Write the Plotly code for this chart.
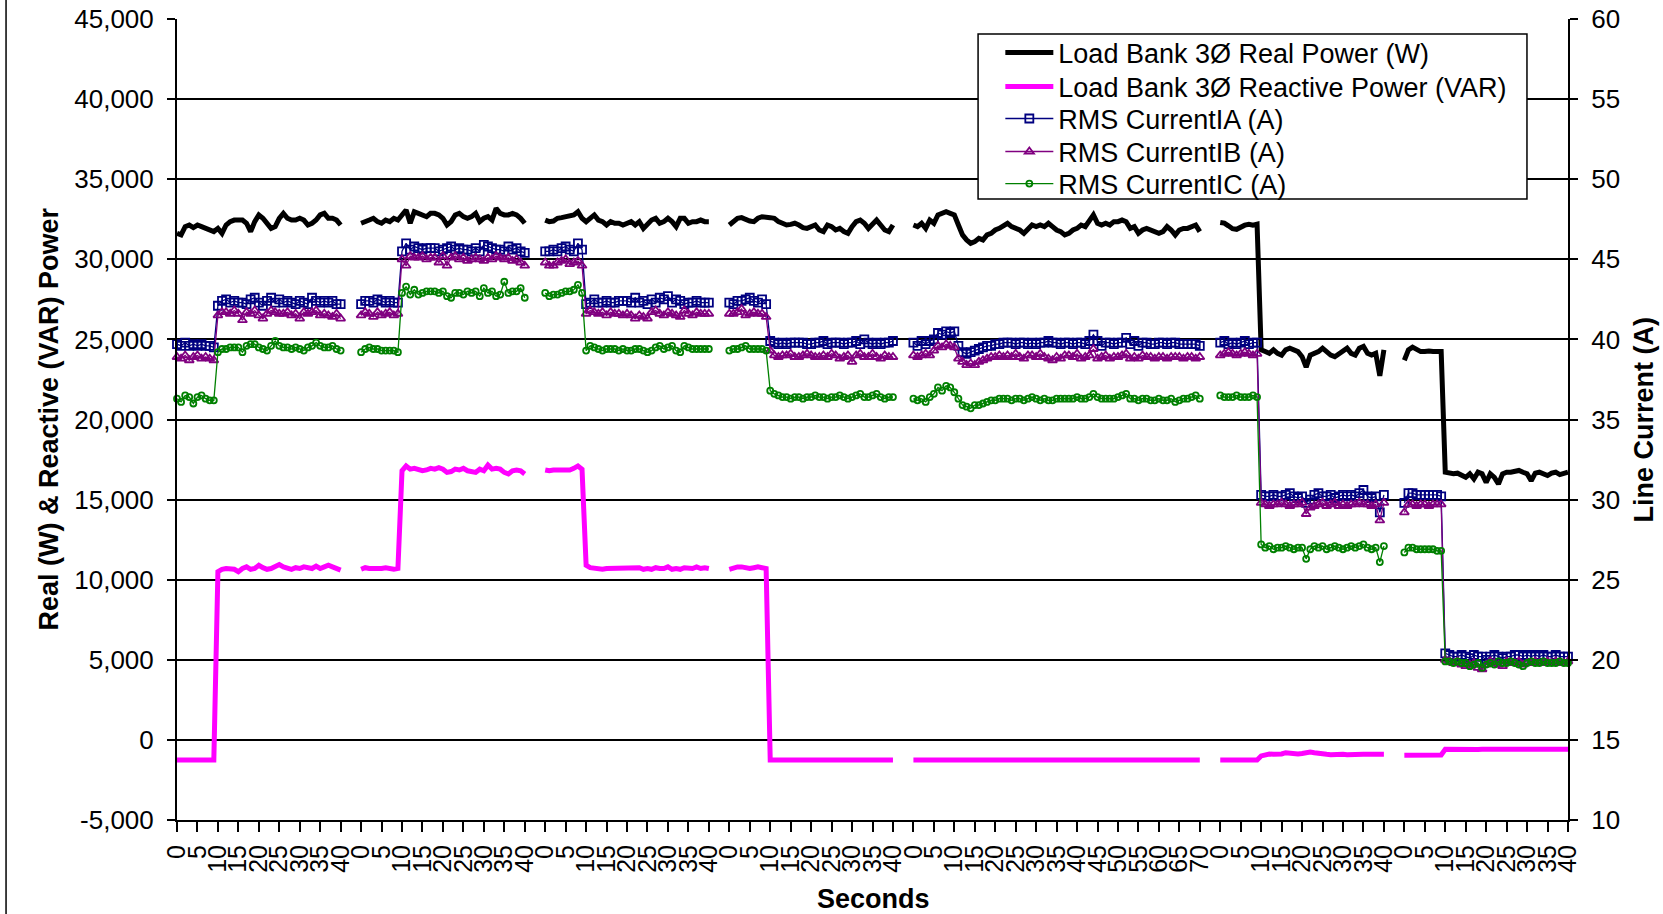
import plotly.graph_objects as go

# ---------------- DATA ----------------
test_durations = [40, 40, 40, 40, 70, 40, 40]   # seconds per test (each starts at 0)
blank_between = 4                               # empty categories between tests
left_ticks = [-5000, 0, 5000, 10000, 15000, 20000, 25000, 30000, 35000, 40000, 45000]

real_power_w = [
    [31620, 31520, 32040, 32140, 31980, 32140, 32040, 31930, 31830, 31730,
     31930, 31620, 32140, 32350, 32450, 32450, 32450, 32250, 31730, 32350,
     32770, 32560, 32250, 31930, 32040, 32560, 32870, 32560, 32450, 32450,
     32560, 32450, 32140, 32250, 32450, 32770, 32870, 32560, 32560, 32450, 32140],
    [32250, 32390, 32450, 32560, 32350, 32250, 32450, 32350, 32560, 32450,
     32770, 33080, 32250, 32970, 32870, 32770, 32660, 32870, 32870, 32770,
     32560, 32140, 32350, 32770, 32870, 32660, 32560, 32660, 32870, 32350,
     32560, 32660, 32450, 33180, 32870, 32770, 32770, 32870, 32770, 32560, 32250],
    [32450, 32350, 32390, 32560, 32600, 32660, 32660, 32770, 32970, 32560,
     32350, 32560, 32770, 32450, 32350, 32140, 32350, 32250, 32250, 32140,
     32250, 32350, 32140, 32350, 31930, 32250, 32450, 32560, 32250, 32350,
     32560, 32350, 32040, 32560, 32560, 32250, 32350, 32350, 32450, 32350, 32350],
    [32140, 32350, 32560, 32600, 32450, 32390, 32350, 32560, 32660, 32660,
     32600, 32560, 32350, 32250, 32140, 32180, 32250, 32140, 31980, 31930,
     32040, 32140, 31830, 31730, 32140, 32040, 31830, 31930, 31730, 31620,
     32040, 32350, 32450, 32250, 31930, 32140, 32450, 32140, 31830, 31730, 32140],
    [32140, 32040, 32250, 31930, 32450, 32250, 32770, 32870, 32970, 32870,
     32770, 32140, 31520, 31210, 31000, 31100, 31310, 31210, 31520, 31620,
     31830, 31930, 32140, 32250, 32040, 31930, 31830, 31620, 31930, 32140,
     32040, 32140, 32040, 32250, 32040, 31830, 31730, 31520, 31620, 31830,
     31930, 32140, 32040, 32350, 32770, 32250, 32140, 32250, 32140, 32350,
     32350, 32450, 32350, 31930, 32040, 31620, 31830, 31930, 31830, 31730,
     31620, 31730, 32040, 31830, 31520, 31830, 31930, 31930, 32040, 32140, 31730],
    [32300, 32260, 32090, 31910, 31870, 32040, 32130, 32190, 32130, 32190,
     24350, 24240, 24130, 24350, 24130, 24020, 24350, 24450, 24350, 24240,
     23920, 23270, 24020, 24130, 24240, 24450, 24240, 24020, 23920, 24130,
     24240, 24450, 24130, 24020, 24450, 24560, 24130, 24020, 24130, 22730, 24350],
    [23700, 24350, 24520, 24350, 24240, 24240, 24280, 24240, 24240, 24240,
     16710, 16650, 16610, 16650, 16500, 16390, 16610, 16290, 16710, 16610,
     16070, 16610, 16390, 15970, 16610, 16710, 16710, 16780, 16820, 16710,
     16610, 16180, 16650, 16710, 16610, 16500, 16650, 16710, 16560, 16650, 16710],
]

reactive_power_var = [
    [-1250, -1250, -1240, -1250, -1250, -1250, -1240, -1250, -1250, -1250,
     10500, 10650, 10700, 10700, 10650, 10500, 10700, 10800, 10650, 10700,
     10900, 10750, 10650, 10700, 10800, 10950, 10800, 10700, 10650, 10750,
     10700, 10800, 10750, 10700, 10850, 10700, 10800, 10900, 10800, 10700, 10600],
    [10650, 10750, 10700, 10700, 10650, 10700, 10750, 10700, 10650, 10700,
     16800, 17100, 16900, 16950, 16900, 16800, 16850, 16950, 16900, 17000,
     16900, 16700, 16750, 16900, 16850, 16950, 16800, 16750, 16700, 16900,
     16800, 17150, 16900, 16950, 16900, 16700, 16600, 16800, 16850, 16800, 16600],
    [16850, 16800, 16850, 16850, 16900, 16900, 16850, 16950, 17100, 16900,
     10900, 10750, 10700, 10700, 10650, 10700, 10700, 10700, 10700, 10700,
     10700, 10700, 10750, 10750, 10650, 10700, 10650, 10750, 10700, 10700,
     10800, 10650, 10700, 10650, 10750, 10700, 10700, 10800, 10700, 10750, 10700],
    [10650, 10750, 10800, 10800, 10750, 10700, 10750, 10800, 10750, 10700,
     -1250, -1250, -1260, -1250, -1250, -1250, -1250, -1260, -1250, -1250,
     -1250, -1250, -1250, -1250, -1260, -1250, -1250, -1250, -1250, -1250,
     -1250, -1260, -1250, -1250, -1250, -1250, -1250, -1250, -1260, -1250, -1250],
    [-1250, -1250, -1250, -1260, -1250, -1250, -1250, -1250, -1250, -1250,
     -1250, -1250, -1260, -1250, -1250, -1250, -1250, -1250, -1250, -1250,
     -1250, -1250, -1250, -1250, -1250, -1260, -1250, -1250, -1250, -1250,
     -1250, -1250, -1250, -1250, -1250, -1250, -1250, -1260, -1250, -1250,
     -1250, -1250, -1250, -1250, -1250, -1250, -1250, -1250, -1250, -1260,
     -1250, -1250, -1250, -1250, -1250, -1250, -1250, -1250, -1250, -1250,
     -1250, -1260, -1250, -1250, -1250, -1250, -1250, -1250, -1250, -1250, -1250],
    [-1250, -1250, -1250, -1250, -1240, -1250, -1250, -1250, -1250, -1250,
     -1000, -900, -880, -900, -920, -880, -800, -820, -900, -880,
     -850, -780, -760, -800, -850, -900, -900, -920, -900, -880,
     -900, -920, -900, -900, -880, -900, -900, -900, -880, -850, -900],
    [-960, -950, -950, -940, -950, -950, -940, -950, -950, -940,
     -590, -600, -590, -590, -590, -580, -590, -590, -600, -590,
     -590, -590, -580, -590, -590, -590, -600, -590, -590, -590,
     -580, -590, -590, -590, -590, -600, -590, -590, -590, -580, -590],
]

current_ia = [
    [39.7, 39.6, 39.8, 39.6, 39.7, 39.6, 39.7, 39.6, 39.6, 39.5,
     42.1, 42.4, 42.5, 42.3, 42.4, 42.3, 42.3, 42.2, 42.5, 42.6,
     42.3, 42.1, 42.4, 42.6, 42.3, 42.5, 42.3, 42.4, 42.3, 42.2,
     42.4, 42.3, 42.2, 42.6, 42.4, 42.3, 42.4, 42.3, 42.4, 42.2, 42.2],
    [42.2, 42.4, 42.4, 42.3, 42.5, 42.4, 42.3, 42.4, 42.3, 42.3,
     45.5, 46.0, 45.6, 45.8, 45.7, 45.6, 45.7, 45.7, 45.7, 45.5,
     45.6, 45.7, 45.8, 45.6, 45.7, 45.6, 45.6, 45.5, 45.7, 45.5,
     45.9, 45.8, 45.7, 45.6, 45.6, 45.5, 45.8, 45.6, 45.7, 45.5, 45.4],
    [45.5, 45.5, 45.6, 45.5, 45.7, 45.8, 45.6, 45.5, 46.0, 45.6,
     42.2, 42.3, 42.5, 42.3, 42.3, 42.4, 42.3, 42.3, 42.4, 42.4,
     42.4, 42.3, 42.6, 42.3, 42.4, 42.2, 42.5, 42.3, 42.6, 42.5,
     42.7, 42.3, 42.5, 42.4, 42.2, 42.3, 42.3, 42.4, 42.3, 42.3, 42.3],
    [42.3, 42.2, 42.4, 42.4, 42.5, 42.6, 42.4, 42.3, 42.5, 42.2,
     39.9, 39.8, 39.7, 39.8, 39.7, 39.8, 39.8, 39.8, 39.8, 39.7,
     39.7, 39.8, 39.8, 39.9, 39.7, 39.8, 39.8, 39.8, 39.7, 39.8,
     39.8, 39.9, 39.7, 40.0, 39.8, 39.7, 39.8, 39.7, 39.8, 39.8, 39.9],
    [39.8, 39.6, 39.9, 39.7, 39.9, 40.0, 40.4, 40.3, 40.5, 40.4,
     40.5, 39.6, 39.2, 39.1, 39.2, 39.3, 39.4, 39.5, 39.6, 39.6,
     39.7, 39.7, 39.8, 39.8, 39.8, 39.7, 39.8, 39.8, 39.7, 39.8,
     39.7, 39.8, 39.8, 39.9, 39.8, 39.8, 39.7, 39.8, 39.8, 39.7,
     39.8, 39.8, 39.7, 39.9, 40.3, 39.9, 39.6, 39.8, 39.8, 39.7,
     39.8, 39.8, 40.1, 39.7, 39.9, 39.6, 39.8, 39.8, 39.7, 39.7,
     39.8, 39.8, 39.7, 39.8, 39.8, 39.7, 39.7, 39.7, 39.7, 39.7, 39.6],
    [39.8, 39.9, 39.7, 39.8, 39.7, 39.8, 39.9, 39.7, 39.8, 39.8,
     30.3, 30.2, 30.2, 30.3, 30.2, 30.2, 30.3, 30.4, 30.2, 30.1,
     30.2, 29.8, 30.0, 30.3, 30.4, 30.2, 30.2, 30.3, 30.1, 30.2,
     30.3, 30.2, 30.3, 30.2, 30.4, 30.6, 30.2, 30.1, 30.2, 29.2, 30.3],
    [29.8, 30.4, 30.4, 30.3, 30.3, 30.3, 30.3, 30.3, 30.3, 30.2,
     20.4, 20.3, 20.2, 20.2, 20.3, 20.2, 20.1, 20.3, 20.2, 20.2,
     20.0, 20.2, 20.3, 20.2, 20.1, 20.2, 20.2, 20.3, 20.3, 20.2,
     20.3, 20.2, 20.3, 20.2, 20.3, 20.2, 20.2, 20.3, 20.2, 20.2, 20.2],
]

current_ib = [
    [38.9, 38.8, 39.0, 38.7, 38.9, 39.0, 38.8, 38.9, 38.8, 38.7,
     41.5, 41.7, 41.7, 41.6, 41.8, 41.6, 41.2, 41.7, 41.6, 41.8,
     41.5, 41.3, 41.6, 41.8, 41.7, 41.6, 41.6, 41.7, 41.5, 41.6,
     41.3, 41.7, 41.6, 41.7, 41.8, 41.5, 41.6, 41.5, 41.4, 41.6, 41.3],
    [41.5, 41.7, 41.6, 41.4, 41.7, 41.5, 41.6, 41.7, 41.5, 41.6,
     45.0, 44.6, 45.2, 45.1, 45.1, 45.2, 45.0, 45.1, 45.1, 44.8,
     45.2, 44.6, 45.1, 45.2, 45.0, 45.1, 44.9, 45.0, 45.1, 45.0,
     44.9, 45.1, 45.0, 45.2, 45.1, 45.0, 45.1, 44.9, 45.0, 44.8, 44.6],
    [44.8, 44.6, 44.6, 44.8, 44.9, 45.0, 44.7, 44.8, 44.9, 44.6,
     41.6, 41.8, 41.7, 41.6, 41.7, 41.5, 41.7, 41.6, 41.6, 41.5,
     41.6, 41.5, 41.3, 41.5, 41.4, 41.3, 41.7, 41.8, 41.6, 41.5,
     41.7, 41.6, 41.5, 41.4, 41.8, 41.6, 41.5, 41.7, 41.6, 41.6, 41.6],
    [41.6, 41.6, 41.7, 41.9, 41.5, 41.6, 41.7, 41.6, 41.6, 41.4,
     39.3, 39.0, 38.9, 39.0, 39.0, 39.1, 38.9, 38.9, 39.0, 39.1,
     39.0, 38.9, 38.9, 39.0, 38.9, 39.1, 39.0, 38.8, 38.9, 39.0,
     38.6, 39.0, 39.1, 38.9, 38.9, 39.1, 38.9, 38.8, 39.0, 38.9, 38.9],
    [39.0, 38.9, 39.0, 39.1, 39.0, 39.3, 39.6, 39.5, 39.7, 39.6,
     39.5, 38.8, 38.6, 38.4, 38.5, 38.4, 38.6, 38.7, 38.8, 38.9,
     38.9, 39.0, 38.9, 39.0, 38.9, 39.1, 38.9, 38.8, 39.0, 39.0,
     38.9, 39.1, 38.9, 38.8, 38.7, 38.9, 38.8, 39.0, 39.0, 38.9,
     39.1, 38.8, 38.9, 39.0, 39.4, 38.8, 38.9, 39.0, 38.8, 38.9,
     38.9, 39.0, 39.1, 38.8, 38.9, 38.8, 39.0, 38.9, 38.9, 38.8,
     38.9, 38.9, 38.8, 38.9, 38.9, 38.9, 38.8, 38.9, 38.9, 38.8, 38.9],
    [39.0, 39.1, 39.2, 39.1, 39.0, 39.1, 39.2, 39.1, 39.0, 39.1,
     29.8, 29.7, 29.6, 29.7, 29.7, 29.8, 29.7, 29.6, 29.7, 29.7,
     29.8, 29.1, 29.5, 29.6, 29.7, 29.8, 29.6, 29.7, 29.8, 29.6,
     29.7, 29.6, 29.7, 29.7, 29.8, 29.7, 29.7, 29.6, 29.7, 28.7, 29.8],
    [29.2, 29.7, 29.7, 29.6, 29.7, 29.7, 29.6, 29.7, 29.7, 29.7,
     20.0, 19.9, 19.8, 19.9, 19.7, 19.6, 19.7, 19.8, 19.5, 19.4,
     19.7, 19.9, 19.8, 19.7, 19.6, 19.9, 19.8, 19.8, 19.9, 19.7,
     19.8, 19.8, 19.9, 19.8, 19.8, 19.9, 19.8, 19.9, 19.8, 19.8, 19.9],
]

current_ic = [
    [36.3, 36.1, 36.5, 36.4, 36.0, 36.4, 36.5, 36.3, 36.2, 36.2,
     39.2, 39.4, 39.4, 39.5, 39.5, 39.5, 39.2, 39.6, 39.7, 39.7,
     39.5, 39.4, 39.3, 39.6, 39.9, 39.6, 39.5, 39.5, 39.4, 39.5,
     39.4, 39.3, 39.5, 39.6, 39.8, 39.6, 39.5, 39.5, 39.6, 39.4, 39.3],
    [39.2, 39.4, 39.5, 39.4, 39.4, 39.3, 39.3, 39.3, 39.3, 39.2,
     42.9, 43.3, 42.8, 43.1, 42.8, 42.9, 43.0, 43.0, 43.0, 42.9,
     43.0, 42.7, 42.6, 42.9, 42.9, 42.8, 43.0, 42.9, 43.0, 42.7,
     43.2, 42.9, 43.0, 42.7, 42.8, 43.6, 42.9, 43.0, 43.0, 43.2, 42.6],
    [42.9, 42.7, 42.8, 42.8, 42.9, 43.0, 43.0, 43.1, 43.4, 42.9,
     39.3, 39.6, 39.5, 39.4, 39.3, 39.4, 39.4, 39.4, 39.3, 39.4,
     39.3, 39.3, 39.4, 39.4, 39.3, 39.2, 39.3, 39.5, 39.6, 39.4,
     39.5, 39.6, 39.3, 39.2, 39.6, 39.5, 39.4, 39.4, 39.4, 39.4, 39.4],
    [39.3, 39.4, 39.4, 39.5, 39.6, 39.4, 39.4, 39.4, 39.4, 39.3,
     36.8, 36.6, 36.5, 36.4, 36.4, 36.3, 36.4, 36.4, 36.3, 36.4,
     36.4, 36.5, 36.4, 36.4, 36.3, 36.4, 36.4, 36.5, 36.4, 36.3,
     36.4, 36.5, 36.6, 36.4, 36.4, 36.5, 36.6, 36.4, 36.3, 36.4, 36.4],
    [36.3, 36.2, 36.3, 36.1, 36.4, 36.6, 37.0, 36.8, 37.1, 37.0,
     36.7, 36.3, 35.9, 35.8, 35.7, 35.9, 35.9, 36.0, 36.1, 36.2,
     36.2, 36.3, 36.3, 36.3, 36.2, 36.3, 36.3, 36.2, 36.3, 36.4,
     36.3, 36.2, 36.3, 36.2, 36.2, 36.3, 36.3, 36.3, 36.3, 36.3,
     36.4, 36.3, 36.3, 36.4, 36.6, 36.4, 36.3, 36.3, 36.3, 36.3,
     36.4, 36.5, 36.6, 36.3, 36.3, 36.2, 36.3, 36.3, 36.2, 36.2,
     36.3, 36.2, 36.2, 36.3, 36.1, 36.2, 36.3, 36.3, 36.4, 36.5, 36.3],
    [36.5, 36.4, 36.4, 36.4, 36.5, 36.4, 36.4, 36.4, 36.5, 36.4,
     27.2, 27.0, 27.1, 26.9, 27.0, 27.0, 27.1, 27.0, 26.9, 27.0,
     27.0, 26.3, 26.9, 27.1, 27.0, 27.1, 26.9, 27.0, 27.1, 27.0,
     26.9, 27.0, 27.1, 27.0, 27.1, 27.2, 27.0, 26.9, 27.0, 26.1, 27.1],
    [26.7, 27.0, 27.0, 26.9, 26.9, 26.9, 26.9, 26.9, 26.8, 26.8,
     19.9, 19.9, 19.8, 19.9, 19.8, 19.8, 19.6, 19.7, 19.8, 19.5,
     19.7, 19.8, 19.7, 19.9, 19.8, 19.8, 19.9, 19.8, 19.7, 19.6,
     19.8, 19.9, 19.8, 19.8, 19.9, 19.8, 19.8, 19.8, 19.9, 19.8, 19.8],
]

series_names = [
    "Load Bank 3Ø Real Power (W)",
    "Load Bank 3Ø Reactive Power (VAR)",
    "RMS CurrentIA (A)",
    "RMS CurrentIB (A)",
    "RMS CurrentIC (A)",
]

# ---------------- CATEGORY AXIS ----------------
categories = []
test_start = []
for t, dur in enumerate(test_durations):
    if t > 0:
        categories += [""] * blank_between
    test_start.append(len(categories))
    categories += [str(s) for s in range(dur + 1)]


def flatten(seg_lists):
    xs, ys = [], []
    for t, seg in enumerate(seg_lists):
        if t > 0:
            xs.append(None)
            ys.append(None)
        for k, v in enumerate(seg):
            xs.append(test_start[t] + k)
            ys.append(v)
    return xs, ys


FONT = "Liberation Sans, Arial, sans-serif"
LEG_FONT = dict(family=FONT, size=27, color="black")
legend_ids = ["legend", "legend2", "legend3", "legend4", "legend5"]
legend_rows_y = [0.9576, 0.9151, 0.8752, 0.8340, 0.7940]

fig = go.Figure()

x, y = flatten(real_power_w)
fig.add_trace(go.Scatter(x=x, y=y, name=series_names[0], mode="lines", legend=legend_ids[0],
                         line=dict(color="#000000", width=5), yaxis="y"))
x, y = flatten(reactive_power_var)
fig.add_trace(go.Scatter(x=x, y=y, name=series_names[1], mode="lines", legend=legend_ids[1],
                         line=dict(color="#FF00FF", width=5), yaxis="y"))

cur_styles = [
    (current_ia, "#000080", "square-open", 8),
    (current_ib, "#800080", "triangle-up-open", 8),
    (current_ic, "#008000", "circle-open", 6),
]
for i, (data, col, sym, sz) in enumerate(cur_styles):
    x, y = flatten(data)
    fig.add_trace(go.Scatter(x=x, y=y, name=series_names[2 + i], mode="lines+markers",
                             legend=legend_ids[2 + i],
                             line=dict(color=col, width=1.3),
                             marker=dict(symbol=sym, size=sz, color=col, line=dict(color=col, width=1.8)),
                             yaxis="y2", cliponaxis=False))

tickvals = [i for i in range(len(categories)) if i % 5 == 0]
ticktext = [categories[i] for i in tickvals]
left_ticktext = [f"{v:,}" for v in left_ticks]

legend_layout = {}
for lid, ly in zip(legend_ids, legend_rows_y):
    legend_layout[lid] = dict(x=0.5919, y=ly, xanchor="left", yanchor="middle",
                              bgcolor="rgba(0,0,0,0)", borderwidth=0,
                              font=LEG_FONT, itemwidth=48)

fig.update_layout(
    width=1663, height=914,
    margin=dict(l=177, r=95, t=19, b=94, autoexpand=False),
    paper_bgcolor="white", plot_bgcolor="white",
    font=dict(family=FONT, size=26, color="black"),
    showlegend=True,
    xaxis=dict(range=[0, len(categories) - 1], tickmode="array", tickvals=tickvals, ticktext=ticktext,
               tickangle=-90, ticks="outside", ticklen=10, tickwidth=1.5, tickcolor="black",
               showline=True, linecolor="black", linewidth=2, showgrid=False, zeroline=False,
               tickfont=dict(family=FONT, size=25, color="black"), ticklabelstandoff=3),
    yaxis=dict(range=[-5000, 45000], tickmode="array", tickvals=left_ticks, ticktext=left_ticktext,
               ticks="outside", ticklen=8, tickwidth=1.5, tickcolor="black",
               showline=True, linecolor="black", linewidth=2,
               showgrid=True, gridcolor="black", gridwidth=1.5, zeroline=False,
               tickfont=dict(family=FONT, size=26, color="black"), ticklabelstandoff=8),
    yaxis2=dict(range=[10, 60], tick0=10, dtick=5, overlaying="y", side="right",
                ticks="outside", ticklen=8, tickwidth=1.5, tickcolor="black",
                showline=True, linecolor="black", linewidth=2,
                showgrid=False, zeroline=False,
                tickfont=dict(family=FONT, size=26, color="black"), ticklabelstandoff=8),
    annotations=[
        dict(text="<b>Real (W) &amp; Reactive (VAR) Power</b>", xref="paper", yref="paper",
             x=-0.0927, y=0.5, xanchor="center", yanchor="middle", textangle=-90, showarrow=False,
             font=dict(family=FONT, size=27, color="black")),
        dict(text="<b>Line Current (A)</b>", xref="paper", yref="paper",
             x=1.0546, y=0.5, xanchor="center", yanchor="middle", textangle=-90, showarrow=False,
             font=dict(family=FONT, size=27, color="black")),
        dict(text="<b>Seconds</b>", xref="paper", yref="paper",
             x=0.501, y=-0.0986, xanchor="center", yanchor="middle", showarrow=False,
             font=dict(family=FONT, size=27, color="black")),
    ],
    shapes=[
        dict(type="line", xref="paper", yref="paper", x0=-0.1229, x1=-0.1229, y0=-0.12, y1=1.03,
             line=dict(color="black", width=1.5)),
        dict(type="rect", xref="paper", yref="paper", x0=0.5759, x1=0.9705, y0=0.7753, y1=0.9813,
             fillcolor="white", line=dict(color="black", width=1.5), layer="above"),
    ],
    **legend_layout,
)

fig.write_html("out.html", config={"displayModeBar": False},
               post_script="document.body.style.margin='0px';document.body.style.overflow='hidden';")
